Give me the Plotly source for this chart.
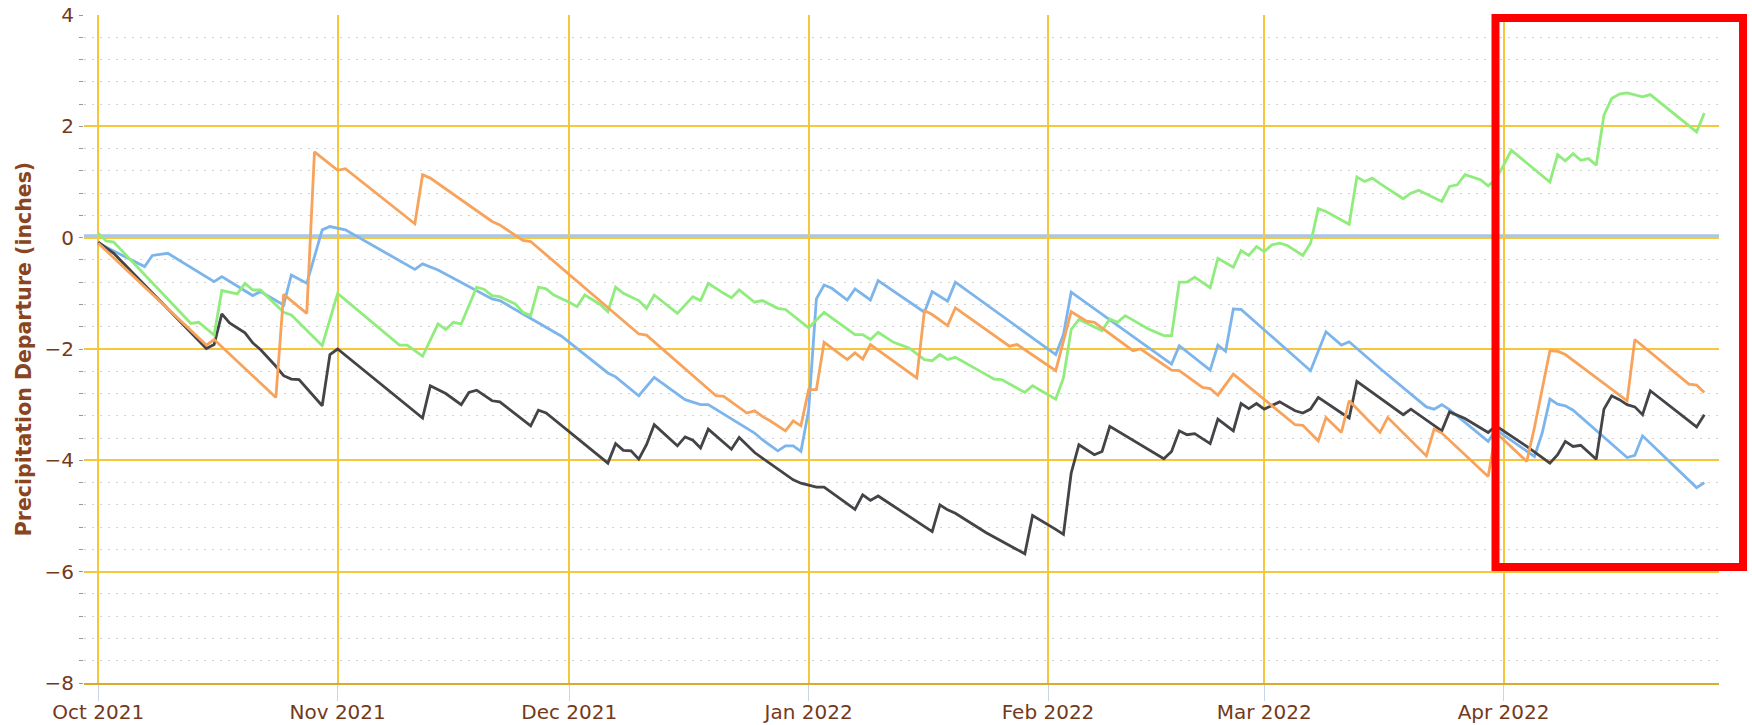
import pandas as pd
import plotly.graph_objects as go

season_start = "2021-10-01"

# day offsets from season_start and precipitation departure (inches)
blue_day = [0, 6, 7, 9, 15, 16, 20, 21, 24, 25, 27, 29, 30, 32, 41, 42, 44, 48, 51, 52, 55, 56, 60, 66, 67, 70,
            72, 76, 78, 79, 85, 86, 88, 89, 90, 91, 92, 93, 94, 95, 97, 98, 100, 101, 107, 108, 110, 111, 124,
            125, 126, 139, 140, 144, 145, 146, 147, 148, 157, 159, 161, 162, 166, 172, 173, 174, 175, 180, 181,
            186, 187, 188, 189, 190, 191, 198, 199, 200, 207, 208]
blue_val = [-0.10, -0.52, -0.32, -0.28, -0.79, -0.70, -1.04, -0.97, -1.21, -0.67, -0.82, 0.14, 0.20, 0.14,
            -0.57, -0.47, -0.58, -0.88, -1.10, -1.13, -1.37, -1.44, -1.77, -2.43, -2.50, -2.84, -2.51, -2.91,
            -3.00, -3.00, -3.51, -3.63, -3.83, -3.74, -3.74, -3.84, -3.10, -1.10, -0.85, -0.91, -1.12, -0.92,
            -1.12, -0.77, -1.34, -0.97, -1.14, -0.80, -2.10, -1.74, -0.98, -2.27, -1.94, -2.38, -1.93, -2.04,
            -1.28, -1.29, -2.39, -1.69, -1.93, -1.87, -2.35, -3.04, -3.08, -3.00, -3.09, -3.66, -3.45, -3.93,
            -3.51, -2.90, -2.99, -3.02, -3.10, -3.95, -3.91, -3.56, -4.49, -4.40]

black_day = [0, 2, 14, 15, 16, 17, 19, 20, 21, 23, 24, 25, 26, 29, 30, 31, 42, 43, 45, 47, 48, 49, 51, 52, 56,
             57, 58, 66, 67, 68, 69, 70, 71, 72, 75, 76, 77, 78, 79, 82, 83, 85, 86, 90, 91, 93, 94, 98, 99,
             100, 101, 108, 109, 110, 111, 115, 120, 121, 124, 125, 126, 127, 129, 130, 131, 138, 139, 140,
             141, 142, 144, 145, 147, 148, 149, 150, 151, 152, 153, 155, 156, 157, 158, 161, 162, 163, 166,
             169, 170, 173, 174, 175, 177, 180, 181, 185, 188, 189, 190, 191, 192, 194, 195, 196, 197, 198,
             199, 200, 201, 207, 208]
black_val = [-0.08, -0.28, -1.99, -1.92, -1.37, -1.53, -1.71, -1.89, -2.01, -2.31, -2.48, -2.54, -2.55, -3.02,
             -2.10, -2.00, -3.24, -2.66, -2.80, -3.00, -2.78, -2.74, -2.93, -2.95, -3.38, -3.10, -3.15, -4.05,
             -3.70, -3.82, -3.83, -3.98, -3.72, -3.36, -3.74, -3.58, -3.64, -3.78, -3.44, -3.80, -3.59, -3.86,
             -3.96, -4.35, -4.41, -4.48, -4.48, -4.88, -4.62, -4.72, -4.64, -5.28, -4.80, -4.89, -4.95, -5.30,
             -5.68, -4.99, -5.24, -5.33, -4.23, -3.72, -3.90, -3.84, -3.39, -3.97, -3.84, -3.47, -3.54, -3.52,
             -3.70, -3.26, -3.47, -2.98, -3.07, -2.98, -3.08, -3.02, -2.95, -3.11, -3.15, -3.08, -2.87, -3.15,
             -3.24, -2.58, -2.88, -3.18, -3.08, -3.38, -3.47, -3.13, -3.25, -3.50, -3.38, -3.75, -4.05, -3.90,
             -3.66, -3.75, -3.73, -3.98, -3.08, -2.84, -2.91, -3.00, -3.04, -3.18, -2.75, -3.40, -3.18]

green_day = [0, 1, 2, 12, 13, 14, 15, 16, 18, 19, 20, 21, 24, 25, 29, 31, 39, 40, 42, 44, 45, 46, 47, 49, 50,
             51, 52, 54, 55, 56, 57, 58, 59, 61, 62, 63, 64, 65, 66, 67, 68, 70, 71, 72, 75, 77, 78, 79, 81,
             82, 83, 85, 86, 88, 89, 92, 94, 98, 99, 100, 101, 103, 105, 107, 108, 109, 110, 111, 115, 116,
             117, 120, 121, 124, 125, 126, 127, 129, 130, 131, 132, 133, 136, 138, 139, 140, 141, 142, 144,
             145, 147, 148, 149, 150, 151, 152, 153, 154, 156, 157, 158, 159, 162, 163, 164, 165, 166, 169,
             170, 171, 174, 175, 176, 177, 179, 180, 181, 182, 183, 188, 189, 190, 191, 192, 193, 194, 195,
             196, 197, 198, 199, 200, 201, 207, 208]
green_val = [0.08, -0.06, -0.08, -1.54, -1.52, -1.63, -1.75, -0.95, -1.01, -0.82, -0.94, -0.94, -1.34, -1.39,
             -1.94, -1.00, -1.93, -1.93, -2.13, -1.55, -1.65, -1.52, -1.55, -0.89, -0.93, -1.04, -1.06, -1.19,
             -1.34, -1.40, -0.89, -0.92, -1.03, -1.16, -1.24, -1.03, -1.12, -1.20, -1.33, -0.89, -1.00, -1.13,
             -1.27, -1.03, -1.36, -1.06, -1.13, -0.82, -1.00, -1.08, -0.94, -1.16, -1.13, -1.27, -1.29, -1.62,
             -1.34, -1.74, -1.74, -1.83, -1.70, -1.88, -1.98, -2.19, -2.21, -2.10, -2.19, -2.15, -2.46, -2.54,
             -2.55, -2.78, -2.66, -2.90, -2.52, -1.65, -1.47, -1.60, -1.67, -1.46, -1.52, -1.40, -1.64, -1.76,
             -1.76, -0.80, -0.80, -0.71, -0.90, -0.37, -0.53, -0.23, -0.32, -0.16, -0.25, -0.13, -0.10, -0.14,
             -0.32, -0.10, 0.52, 0.47, 0.24, 1.09, 1.01, 1.07, 0.97, 0.70, 0.80, 0.85, 0.65, 0.92, 0.95, 1.13,
             1.04, 0.93, 1.05, 1.30, 1.57, 1.00, 1.49, 1.38, 1.51, 1.39, 1.42, 1.30, 2.20, 2.50, 2.58, 2.60,
             2.56, 2.53, 2.57, 1.90, 2.24]

orange_day = [0, 14, 15, 23, 24, 27, 28, 31, 32, 41, 42, 43, 51, 52, 55, 56, 70, 71, 80, 81, 84, 85, 86, 87,
              89, 90, 91, 92, 93, 94, 97, 98, 99, 100, 106, 107, 108, 110, 111, 118, 119, 124, 126, 128, 129,
              134, 135, 139, 140, 143, 144, 145, 147, 155, 156, 158, 159, 161, 162, 166, 167, 172, 173, 174,
              180, 181, 185, 186, 188, 189, 190, 198, 199, 206, 207, 208]
orange_val = [-0.10, -1.93, -1.83, -2.87, -1.02, -1.36, 1.54, 1.21, 1.24, 0.25, 1.13, 1.07, 0.29, 0.23, -0.05,
              -0.07, -1.73, -1.75, -2.84, -2.85, -3.15, -3.11, -3.21, -3.29, -3.47, -3.29, -3.38, -2.73, -2.73,
              -1.88, -2.19, -2.07, -2.18, -1.92, -2.52, -1.31, -1.38, -1.58, -1.26, -1.95, -1.92, -2.39, -1.33,
              -1.50, -1.52, -2.03, -2.00, -2.38, -2.39, -2.69, -2.71, -2.83, -2.45, -3.36, -3.37, -3.65, -3.23,
              -3.50, -2.93, -3.50, -3.23, -3.92, -3.44, -3.51, -4.29, -3.50, -4.02, -3.41, -2.03, -2.04, -2.10,
              -2.93, -1.83, -2.63, -2.65, -2.78]

month_ticks = ["2021-10-01", "2021-11-01", "2021-12-01", "2022-01-01", "2022-02-01", "2022-03-01", "2022-04-01"]
month_labels = ["Oct 2021", "Nov 2021", "Dec 2021", "Jan 2022", "Feb 2022", "Mar 2022", "Apr 2022"]

start = pd.Timestamp(season_start)


def to_dates(days):
    return [start + pd.Timedelta(days=d) for d in days]


series = [
    ("blue", blue_day, blue_val, "#7cb5ec"),
    ("black", black_day, black_val, "#434348"),
    ("green", green_day, green_val, "#90ed7d"),
    ("orange", orange_day, orange_val, "#f7a35c"),
]

GOLD = "#f6c63c"
BROWN = "#74391a"
FONT = "DejaVu Sans"

fig = go.Figure()
for name, d, v, c in series:
    fig.add_trace(go.Scatter(x=to_dates(d), y=v, mode="lines", name=name,
                             line=dict(color=c, width=2.8), showlegend=False))

x_lo = start - pd.Timedelta(hours=44.4)
x_hi = start + pd.Timedelta(hours=209.9 * 24)

fig.update_layout(
    width=1752, height=725,
    margin=dict(l=84, r=33, t=15, b=42, autoexpand=False),
    paper_bgcolor="white", plot_bgcolor="white",
    font=dict(family=FONT, color=BROWN),
    showlegend=False,
    xaxis=dict(
        range=[x_lo, x_hi], tickvals=month_ticks, ticktext=month_labels,
        showgrid=True, gridcolor=GOLD, gridwidth=2,
        ticks="outside", ticklen=16, tickcolor="#c6d5e8", tickwidth=1,
        ticklabelstandoff=-6,
        showline=True, linecolor="#d8aa2e", linewidth=2,
        zeroline=False, automargin=False,
        tickfont=dict(family=FONT, size=20, color=BROWN),
    ),
    yaxis=dict(
        range=[-8, 4], dtick=2, tick0=0,
        showgrid=True, gridcolor=GOLD, gridwidth=2, zeroline=False, automargin=False,
        ticks="outside", ticklen=4, tickcolor="#999999", tickwidth=1,
        ticklabelstandoff=1,
        tickfont=dict(family=FONT, size=20, color=BROWN),
        minor=dict(dtick=0.4, tick0=0, showgrid=True, gridcolor="#d2d2d2",
                   griddash="2px,6px", gridwidth=1, ticks="outside", ticklen=4,
                   tickcolor="#999999"),
        title=dict(text="Precipitation Departure (inches)", standoff=7,
                   font=dict(family=FONT, size=20.5, color="#8a4520", weight="bold")),
    ),
)

# normal (zero departure) line, just above the gold gridline
fig.add_shape(type="line", xref="paper", x0=0, x1=1, yref="y", ysizemode="pixel", yanchor=0,
              y0=2, y1=2, line=dict(color="#a9c6e4", width=3), layer="between")

# red highlight box
fig.add_shape(type="rect", xref="paper", yref="paper", x0=0.8633, x1=1.0147, y0=0.1737, y1=0.9955,
              line=dict(color="#ff0000", width=8), fillcolor="rgba(0,0,0,0)", layer="above")

fig.write_html("out.html", config={"displayModeBar": False},
               post_script="document.body.style.margin='0px';document.body.style.overflow='hidden';")
